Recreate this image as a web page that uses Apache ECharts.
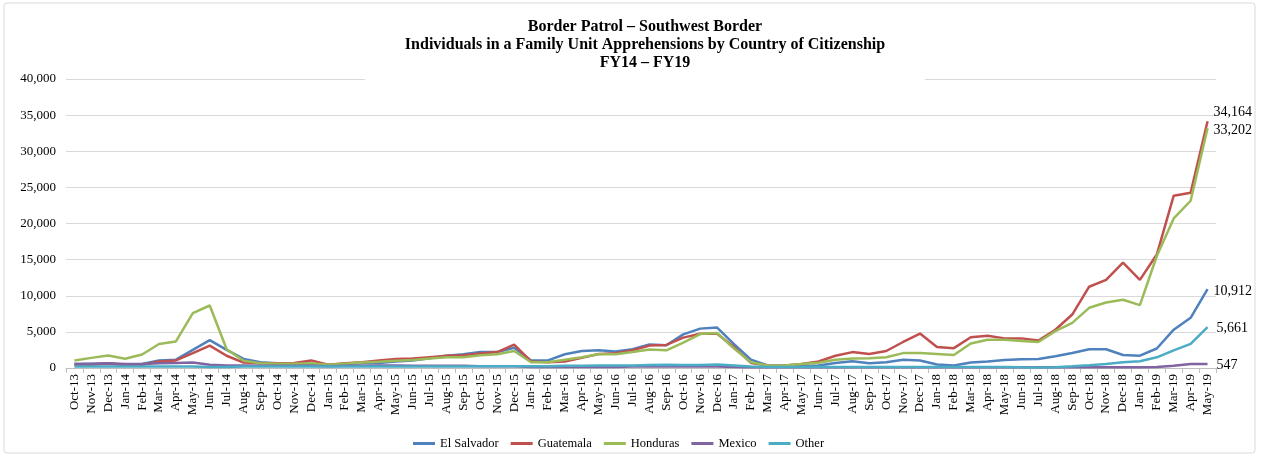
<!DOCTYPE html>
<html>
<head>
<meta charset="utf-8">
<script src="https://cdn.jsdelivr.net/npm/echarts@6/dist/echarts.min.js"></script>
<style>
html,body{margin:0;padding:0;background:#fff;}
#chart{width:1261px;height:457px;}
</style>
</head>
<body>
<div id="chart"></div>
<script>
const months = ["Oct-13","Nov-13","Dec-13","Jan-14","Feb-14","Mar-14","Apr-14","May-14","Jun-14","Jul-14","Aug-14","Sep-14",
"Oct-14","Nov-14","Dec-14","Jan-15","Feb-15","Mar-15","Apr-15","May-15","Jun-15","Jul-15","Aug-15","Sep-15",
"Oct-15","Nov-15","Dec-15","Jan-16","Feb-16","Mar-16","Apr-16","May-16","Jun-16","Jul-16","Aug-16","Sep-16",
"Oct-16","Nov-16","Dec-16","Jan-17","Feb-17","Mar-17","Apr-17","May-17","Jun-17","Jul-17","Aug-17","Sep-17",
"Oct-17","Nov-17","Dec-17","Jan-18","Feb-18","Mar-18","Apr-18","May-18","Jun-18","Jul-18","Aug-18","Sep-18",
"Oct-18","Nov-18","Dec-18","Jan-19","Feb-19","Mar-19","Apr-19","May-19"];

const elSalvador = [550,550,600,450,550,1050,1150,2500,3850,2500,1250,800,
650,650,600,450,550,650,700,900,1050,1350,1700,1900,
2200,2200,2800,1050,1050,1900,2350,2450,2300,2600,3250,3150,
4650,5450,5600,3300,1150,350,300,250,350,700,950,650,
800,1150,1050,480,350,750,900,1100,1200,1250,1620,2080,
2600,2600,1800,1700,2700,5300,6950,10912];

const guatemala = [400,450,650,400,450,900,1050,2050,3100,1700,750,650,
650,700,1050,450,650,800,1050,1250,1300,1500,1700,1750,
2000,2200,3250,900,800,900,1400,1950,2050,2450,3100,3200,
4200,4750,4750,2900,700,350,350,550,900,1700,2200,1950,
2350,3600,4770,2900,2750,4250,4450,4100,4100,3800,5300,7400,
11250,12200,14600,12200,15700,23850,24250,34164];

const honduras = [1050,1400,1730,1270,1860,3320,3680,7590,8650,2600,1000,650,
600,600,650,450,600,750,880,1020,1120,1300,1500,1500,
1750,1900,2350,800,800,1150,1500,1900,1900,2200,2550,2450,
3500,4700,4850,2700,800,350,350,550,720,1150,1300,1350,
1500,2060,2060,1950,1800,3400,3900,3900,3750,3600,5100,6250,
8330,9070,9450,8700,15500,20700,23150,33202];

const mexico = [550,600,650,550,550,650,700,750,450,350,350,300,
300,300,300,250,300,300,350,350,300,300,300,300,
250,250,250,150,150,150,150,150,150,200,200,200,
200,200,200,150,100,100,100,100,100,100,100,100,
100,100,100,100,100,100,100,100,100,100,100,100,
100,100,100,100,150,300,550,547];

const other = [200,200,200,200,200,200,200,200,150,150,200,200,
200,200,200,200,200,200,200,200,200,200,200,200,
250,250,250,250,250,300,300,350,350,350,400,450,
400,400,500,350,200,150,150,150,150,150,150,150,
150,150,150,150,150,150,150,150,100,80,120,230,
370,560,790,930,1480,2450,3330,5661];

const seriesNames = ["El Salvador","Guatemala","Honduras","Mexico","Other"];
const seriesColors = ["#4F81BD","#C0504D","#9BBB59","#8064A2","#4BACC6"];
const seriesData = [elSalvador, guatemala, honduras, mexico, other];
const labelOffsets = [[-2,2],[-2,-9],[-2,2],[1,1],[1,1]];

const serif = "Liberation Serif";
const chart = echarts.init(document.getElementById('chart'));

const series = seriesNames.map((name, i) => ({
  name: name,
  type: 'line',
  data: seriesData[i],
  symbol: 'none',
  smooth: false,
  lineStyle: {width: 2.5, color: seriesColors[i]},
  itemStyle: {color: seriesColors[i]},
  endLabel: {
    show: true,
    formatter: p => Number(p.value).toLocaleString('en-US'),
    offset: labelOffsets[i],
    fontFamily: serif,
    fontSize: 14,
    color: '#000'
  },
  z: 2 + i
}));

chart.setOption({
  animation: false,
  backgroundColor: '#fff',
  graphic: [{
    type: 'rect',
    shape: {x: 4, y: 3, width: 1251, height: 450, r: 3},
    style: {fill: 'none', stroke: '#d9d9d9', lineWidth: 1},
    silent: true
  }],
  title: {
    text: 'Border Patrol – Southwest Border\nIndividuals in a Family Unit Apprehensions by Country of Citizenship\nFY14 – FY19',
    left: 605,
    textAlign: 'center',
    top: 13,
    padding: [5, 40, 12, 40],
    backgroundColor: '#fff',
    textStyle: {fontFamily: serif, fontWeight: 'bold', fontSize: 16, lineHeight: 18, color: '#000'}
  },
  legend: {
    data: seriesNames,
    left: 408,
    top: 432,
    itemWidth: 22,
    itemHeight: 3,
    itemGap: 12,
    icon: 'rect',
    textStyle: {fontFamily: serif, fontSize: 12.5, color: '#000'}
  },
  grid: {left: 66, right: 45, top: 79, bottom: 89, containLabel: false},
  xAxis: {
    type: 'category',
    data: months,
    boundaryGap: true,
    axisLine: {lineStyle: {color: '#bfbfbf'}},
    axisTick: {show: true, interval: 0, length: 5, lineStyle: {color: '#bfbfbf'}},
    axisLabel: {interval: 0, rotate: 90, fontFamily: serif, fontSize: 13, color: '#000', margin: 6}
  },
  yAxis: {
    type: 'value',
    min: 0,
    max: 40000,
    interval: 5000,
    axisLine: {show: false},
    axisTick: {show: false},
    splitLine: {lineStyle: {color: '#d9d9d9', width: 1}},
    axisLabel: {
      fontFamily: serif, fontSize: 13, color: '#000', margin: 10,
      formatter: v => Number(v).toLocaleString('en-US')
    }
  },
  series: series
});
</script>
</body>
</html>
